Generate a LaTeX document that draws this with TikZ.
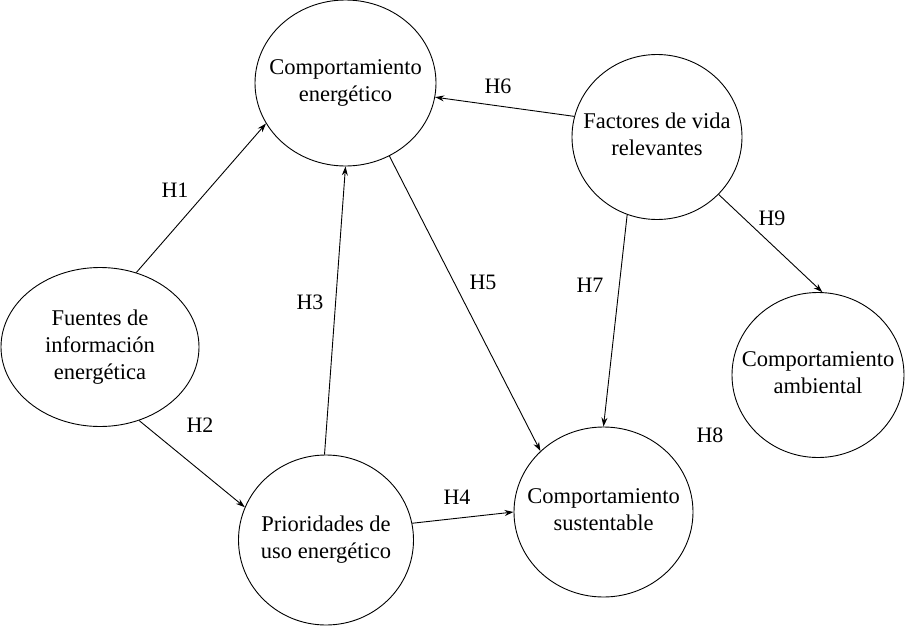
\documentclass[tikz,border=0pt]{standalone}
\usepackage{fontspec}
\setmainfont{Liberation Serif}
\usetikzlibrary{shapes.geometric,arrows.meta}
\newcommand\ctxt[1]{\makebox[0pt]{\begin{tabular}{@{}c@{}}#1\end{tabular}}}
\begin{document}
\begin{tikzpicture}[x=1pt,y=-1pt,
  construct/.style={draw,ellipse,line width=0.9pt,inner sep=0pt,
    font=\fontsize{22.5}{27}\selectfont},
  link/.style={line width=0.9pt,-{Stealth[length=9pt,width=6pt]}},
  hlabel/.style={font=\fontsize{22}{26}\selectfont}]
\useasboundingbox (0,0) rectangle (906,627);
\node[construct,minimum width=181,minimum height=166] (ce) at (345.5,83) {\ctxt{Comportamiento\\energético}};
\node[construct,minimum width=170,minimum height=165] (fv) at (657,137) {\ctxt{Factores de vida\\relevantes}};
\node[construct,minimum width=198,minimum height=159] (fi) at (100,347) {\ctxt{Fuentes de\\información\\energética}};
\node[construct,minimum width=175,minimum height=170] (pu) at (326,540) {\ctxt{Prioridades de\\uso energético}};
\node[construct,minimum width=179,minimum height=170] (cs) at (603.5,512) {\ctxt{Comportamiento\\sustentable}};
\node[construct,minimum width=172,minimum height=165] (ca) at (818,375) {\ctxt{Comportamiento\\ambiental}};

\draw[link] (fi.64) -- (ce.207.5);
\draw[link] (fi.-62.5) -- (pu.158);
\draw[link] (pu.91) -- (ce.-90);
\draw[link] (pu.11) -- (cs.180);
\draw[link] (ce.-59) -- (cs.136);
\draw[link] (fv.166.8) -- (ce.-9);
\draw[link] (fv.-111.7) -- (cs.90);
\draw[link] (fv.-43) -- (ca.87);

\node[hlabel] (h1) at (175,190) {H1};
\node[hlabel] (h2) at (200,425) {H2};
\node[hlabel] (h3) at (310,302) {H3};
\node[hlabel] (h4) at (457,497) {H4};
\node[hlabel] (h5) at (483,282) {H5};
\node[hlabel] (h6) at (498,86) {H6};
\node[hlabel] (h7) at (590,285) {H7};
\node[hlabel] (h8) at (710,435) {H8};
\node[hlabel] (h9) at (772,218) {H9};
\end{tikzpicture}
\end{document}
